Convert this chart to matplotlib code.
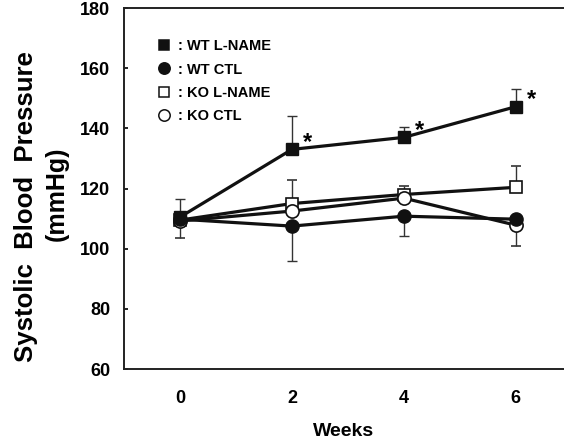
import matplotlib.pyplot as plt
from matplotlib.lines import Line2D

plt.rcParams['font.family'] = ['Liberation Sans', 'DejaVu Sans']
plt.rcParams['font.weight'] = 'bold'

weeks = [0, 2, 4, 6]

wt_lname = [110.5, 133, 137, 147.2]
wt_lname_up = [6, 11.2, 3.6, 6]

wt_ctl = [109.8, 107.5, 110.8, 109.8]
wt_ctl_down = [0, 11.5, 6.6, 0]

ko_lname = [109.5, 115, 118, 120.4]
ko_lname_up = [0, 7.7, 2.7, 7]

ko_ctl = [109.2, 112.5, 116.8, 107.8]
ko_ctl_down = [5.7, 0, 0, 6.9]

star_weeks = [2, 4, 6]
star_base = [133, 137, 147.2]

fig = plt.figure(figsize=(5.64, 4.41), dpi=100)
ax = fig.add_axes([124 / 564, 1 - 369 / 441, 1 - 124 / 564, (369 - 8) / 441])

lw = 2.3
ms = 9
eb = dict(ecolor='#333333', elinewidth=1.0, capsize=3.5, capthick=1.0)

ax.errorbar(weeks, ko_lname, yerr=[[0] * 4, ko_lname_up], color='#111111', lw=lw,
            marker='s', ms=ms, mfc='white', mec='#111111', mew=1.2,
            label=': KO L-NAME', zorder=2, **eb)
ax.errorbar(weeks, wt_lname, yerr=[[0] * 4, wt_lname_up], color='#111111', lw=lw,
            marker='s', ms=ms, mfc='#111111', mec='#111111',
            label=': WT L-NAME', zorder=3, **eb)
ax.errorbar(weeks, ko_ctl, yerr=[ko_ctl_down, [0] * 4], color='#111111', lw=lw,
            marker='o', ms=ms + 0.5, mfc='white', mec='#111111', mew=1.2,
            label=': KO CTL', zorder=4, **eb)
ax.errorbar(weeks, wt_ctl, yerr=[wt_ctl_down, [0] * 4], color='#111111', lw=lw,
            marker='o', ms=ms + 0.5, mfc='#111111', mec='#111111',
            label=': WT CTL', zorder=5, **eb)

# significance marks
for w, b in zip(star_weeks, star_base):
    ax.annotate('*', (w, b), xytext=(11, 5), textcoords='offset points',
                ha='center', va='center', fontsize=17, fontweight='bold')

ax.set_xlim(-1, 6.86)
ax.set_ylim(60, 180)
ax.set_xticks(weeks)
ax.set_yticks(range(60, 181, 20))
ax.tick_params(axis='x', length=0, pad=15, labelsize=13)
ax.tick_params(axis='y', direction='in', length=3, width=1.2, pad=10, labelsize=13)
ax.spines['right'].set_visible(False)
for s in ['left', 'top', 'bottom']:
    ax.spines[s].set_linewidth(1.4)
    ax.spines[s].set_color('#222222')

ax.set_xlabel('Weeks', fontsize=14, fontweight='bold', labelpad=12)
ax.set_ylabel('Systolic  Blood  Pressure', fontsize=18.5, fontweight='bold',
              va='center', ha='center')
ax.yaxis.set_label_coords(-0.222, 0.449)
ax.text(-0.152, 0.485, '(mmHg)', transform=ax.transAxes, rotation=90,
        ha='center', va='center', fontsize=18, fontweight='bold')

handles, labels = ax.get_legend_handles_labels()
order = [1, 3, 0, 2]
hs = []
for i in order:
    h = handles[i][0]
    m = h.get_marker()
    hs.append(Line2D([], [], ls='none', marker=m, ms=6.5 if m == 's' else 8.2,
                     mfc=h.get_markerfacecolor(), mec='#111111', mew=1.1))
ax.legend(hs, [labels[i] for i in order], loc='upper left', frameon=False,
          bbox_to_anchor=(0.045, 0.95), handlelength=1.0, handletextpad=0.45,
          labelspacing=0.64, prop={'weight': 'bold', 'size': 10.5})

fig.savefig('out.png', dpi=100)
